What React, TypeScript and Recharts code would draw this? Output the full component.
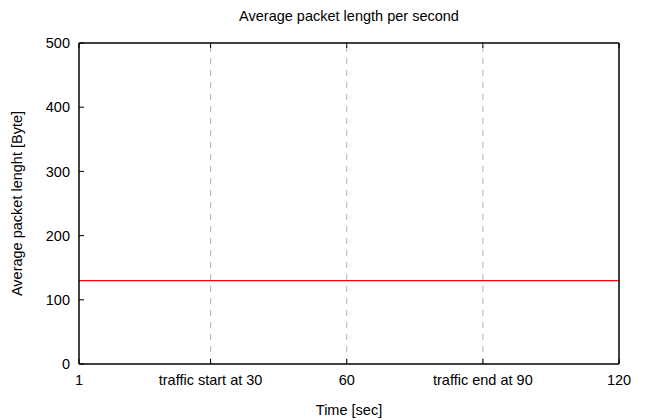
import { Line, LineChart, ReferenceLine, XAxis, YAxis } from "recharts";

const seconds = [1, 30, 60, 90, 120];
const avgLength = [130, 130, 130, 130, 130];
const xTicks = [1, 30, 60, 90, 120];
const xTickLabels: Record<number, string> = {
  1: "1",
  30: "traffic start at 30",
  60: "60",
  90: "traffic end at 90",
  120: "120"
};
const yTicks = [0, 100, 200, 300, 400, 500];
const markers = [30, 60, 90];

const data = seconds.map((t, i) => ({ t, value: avgLength[i] }));

const font = "Arial, 'Liberation Sans', sans-serif";
const tickStyle = { fill: "#000", fontSize: 14.5, fontFamily: font };

const App = () => {
  return (
    <div style={{ position: "absolute", left: 0, top: 0, width: 648, height: 420, background: "#fff" }}>
      <div
        style={{
          position: "absolute",
          top: 8,
          left: 79,
          width: 540,
          textAlign: "center",
          fontFamily: font,
          fontSize: 14.5,
          color: "#000"
        }}
      >
        Average packet length per second
      </div>
      <LineChart width={648} height={420} data={data} margin={{ top: 42, right: 0, left: 0, bottom: 0 }}>
        <XAxis
          dataKey="t"
          type="number"
          domain={[1, 120]}
          ticks={xTicks}
          tickFormatter={(v) => xTickLabels[v] ?? String(v)}
          interval={0}
          height={56}
          axisLine={{ stroke: "#000", strokeWidth: 1.5 }}
          tickLine={{ stroke: "#000" }}
          tickSize={-5}
          tickMargin={16}
          tick={tickStyle}
          label={{ value: "Time [sec]", position: "insideBottom", offset: 5, style: tickStyle }}
        />
        <XAxis
          xAxisId="top"
          dataKey="t"
          orientation="top"
          type="number"
          domain={[1, 120]}
          ticks={xTicks}
          height={1}
          axisLine={{ stroke: "#000", strokeWidth: 1.5 }}
          tickLine={{ stroke: "#000" }}
          tickSize={-5}
          tickFormatter={() => ""}
        />
        <YAxis
          type="number"
          domain={[0, 500]}
          ticks={yTicks}
          width={79}
          axisLine={{ stroke: "#000", strokeWidth: 1.5 }}
          tickLine={{ stroke: "#000" }}
          tickSize={-5}
          tickMargin={14}
          tick={tickStyle}
          label={{
            value: "Average packet lenght [Byte]",
            angle: -90,
            position: "insideLeft",
            offset: 17,
            style: { ...tickStyle, textAnchor: "middle" }
          }}
        />
        <YAxis
          yAxisId="right"
          orientation="right"
          type="number"
          domain={[0, 500]}
          ticks={yTicks}
          width={29}
          axisLine={{ stroke: "#000", strokeWidth: 1.5 }}
          tickLine={{ stroke: "#000" }}
          tickSize={-5}
          tickFormatter={() => ""}
        />
        {markers.map((m) => (
          <ReferenceLine key={m} x={m} stroke="#b0b0b0" strokeDasharray="6 6" />
        ))}
        <Line
          type="linear"
          dataKey="value"
          stroke="#ff0000"
          strokeWidth={1.3}
          dot={false}
          isAnimationActive={false}
        />
      </LineChart>
    </div>
  );
};

export default App;
